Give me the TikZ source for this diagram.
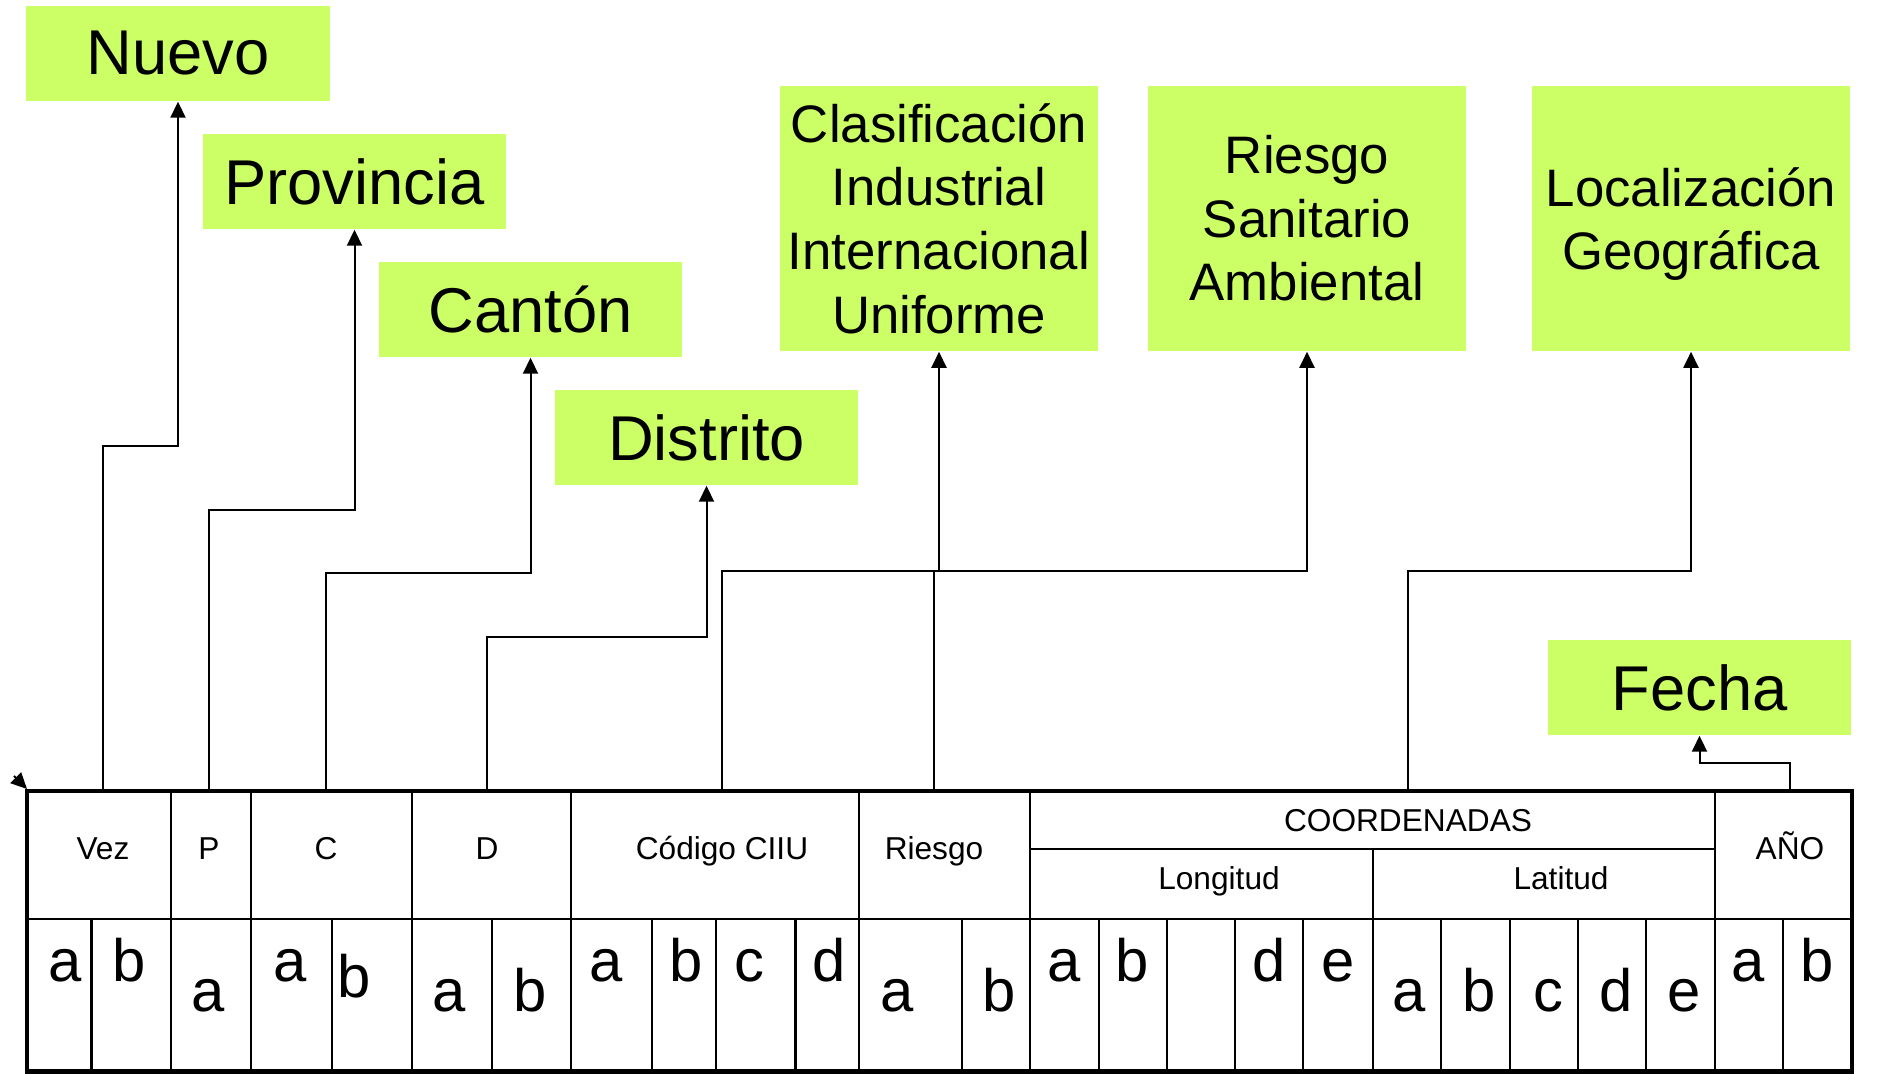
\documentclass[tikz,border=0pt]{standalone}
\usepackage{fontspec}
\setmainfont{Liberation Sans}
\usepackage{tikz}
\usetikzlibrary{arrows.meta}

\definecolor{boxgreen}{RGB}{204,255,102}
\tikzset{
  tag/.style={fill=boxgreen,inner sep=0pt,minimum width=3.03cm,minimum height=0.95cm,font=\fontsize{18}{21}\selectfont},
  bigtag/.style={tag,minimum width=3.18cm,minimum height=2.65cm,align=center,font=\fontsize{15}{18.1}\selectfont},
  head/.style={anchor=base,inner sep=0pt,font=\fontsize{9}{10}\selectfont},
  cell/.style={anchor=base,inner sep=0pt,font=\fontsize{17}{20}\selectfont},
  link/.style={-{Triangle[length=1.6mm,width=1.5mm]},line width=0.57pt},
  rule/.style={line width=0.6pt}
}

\begin{document}
\begin{tikzpicture}[x=0.01cm,y=-0.01cm]
  \useasboundingbox (0,0) rectangle (1903,1074);

  % campos del codigo
  \node[tag] (nuevo) at (178,53.5) {Nuevo};
  \node[tag] (prov) at (354.5,181.5) {Provincia};
  \node[tag] (canton) at (530.5,309.5) {Cantón};
  \node[tag] (distrito) at (706.5,437.5) {Distrito};
  \node[bigtag] (ciiubox) at (939,218.5) {Clasificación\\Industrial\\Internacional\\Uniforme};
  \node[bigtag] (riesgobox) at (1307,218.5) {Riesgo\\Sanitario\\Ambiental};
  \node[bigtag,text depth=0pt] (geobox) at (1691,218.5) {Localización\\Geográfica};
  \node[tag] (fecha) at (1699.5,687.5) {Fecha};

  % encabezados de la tabla
  \coordinate (top) at (0,791);
  \node[head] (vez) at (103,859.5) {Vez};
  \node[head] (p) at (209,859.5) {P};
  \node[head] (c) at (326,859.5) {C};
  \node[head] (d) at (487,859.5) {D};
  \node[head] (ciiu) at (722,859.5) {Código CIIU};
  \node[head] (riesgo) at (934,859.5) {Riesgo};
  \node[head] (coord) at (1408,831.5) {COORDENADAS};
  \node[head] (long) at (1219,889.3) {Longitud};
  \node[head] (lat) at (1561,889.3) {Latitud};
  \node[head] (ano) at (1790,859.5) {AÑO};

  \path[link]
    (vez |- top) edge[to path={-- (vez |- 0,446) -| (\tikztotarget)}] (nuevo)
    (p |- top) edge[to path={-- (p |- 0,510) -| (\tikztotarget)}] (prov)
    (c |- top) edge[to path={-- (c |- 0,573) -| (\tikztotarget)}] (canton)
    (d |- top) edge[to path={-- (d |- 0,637) -| (\tikztotarget)}] (distrito)
    (ciiu |- top) edge[to path={-- (ciiu |- 0,571) -| (\tikztotarget)}] (ciiubox)
    (riesgo |- top) edge[to path={-- (riesgo |- 0,571) -| (\tikztotarget)}] (riesgobox)
    (coord |- top) edge[to path={-- (coord |- 0,571) -| (\tikztotarget)}] (geobox)
    (ano |- top) edge[to path={-- (ano |- 0,763) -| (\tikztotarget)}] (fecha);

  \coordinate (corner) at (27,789);
  \coordinate (stub) at (14,776);
  \draw[link] (stub) -- (corner);

  % rejilla
  \draw[rule] (27,919) -- (1852,919);
  \draw[rule] (1030,849) -- (1715,849);
  \draw[rule] (1373,849) -- (1373,1071.5);
  \foreach \cx in {171,251,411.6,571,859,1030,1715}
    \draw[rule] (\cx,791) -- (\cx,1071.5);
  \foreach \cx in {91.5,331.7,492,652,716,795.5,961.6,1098.7,1167,1235,1303,1441,1509.6,1578,1646,1783}
    \draw[rule] (\cx,919) -- (\cx,1071.5);
  \draw[line width=1.4pt] (27,791) rectangle (1852,1071.5);

  \foreach \lx/\ly/\lt [count=\i] in {65/981.5/a,129.5/981.5/b,208.5/1011.5/a,290/981.5/a,354/998/b,
      449.6/1011.5/a,530/1011.5/b,606/981.5/a,686/981.5/b,749/981.5/c,829.5/981.5/d,
      897/1011.5/a,999.5/1011.5/b,1064/981.5/a,1132/981.5/b,1269.6/981.5/d,1338/981.5/e,
      1409.6/1011.5/a,1478.7/1011.5/b,1548/1011.5/c,1616/1011.5/d,1684/1011.5/e,
      1748/981.5/a,1817/981.5/b}
    \node[cell] (l\i) at (\lx,\ly) {\lt};
\end{tikzpicture}
\end{document}
